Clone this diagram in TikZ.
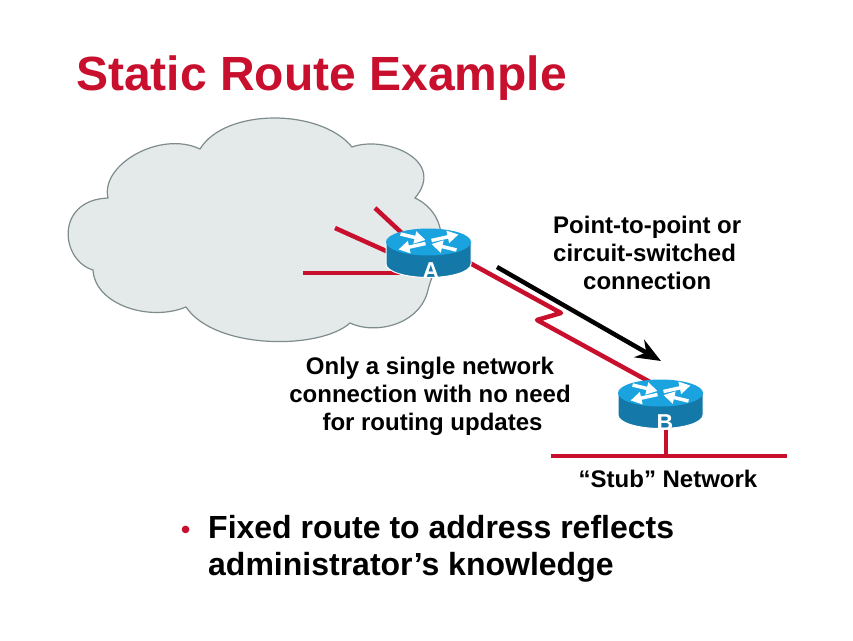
\documentclass[tikz,border=0pt]{standalone}
\usepackage{fontspec}
\setmainfont{Liberation Sans}
\usetikzlibrary{arrows.meta}
\definecolor{ciscored}{HTML}{C8102E}
\definecolor{cloudfill}{HTML}{E4E9EA}
\definecolor{cloudline}{HTML}{7F8C8C}
\definecolor{rtop}{HTML}{1BA3E0}
\definecolor{rside}{HTML}{1478A8}
\tikzset{
  x=1pt,y=-1pt,
  redline/.style={draw=ciscored,line width=4.5pt},
  lbl/.style={font=\bfseries\fontsize{24}{28}\selectfont,inner sep=0pt,text=black},
  rlabel/.style={font=\bfseries\fontsize{23}{23}\selectfont,text=white,inner sep=0pt},
  rarrow/.style={draw=white,line width=3.5pt,-{Triangle[length=11pt,width=12pt]}},
  pics/router/.style={code={
    \path[fill=rside,draw=white,line width=1pt] (-42.5,0) -- (-42.5,22) arc[start angle=180,end angle=360,x radius=42.5,y radius=-13.5] -- (42.5,0) -- cycle;
    \fill[rtop] (0,0) ellipse[x radius=42.5,y radius=13.5];
    \draw[rarrow] (3,-1.5) -- (30,-7.5);
    \draw[rarrow] (-3,1.5) -- (-30,7.5);
    \draw[rarrow] (-28,-8) -- (-3,-2);
    \draw[rarrow] (28,8) -- (3,2);
  }}
}
\begin{document}
\begin{tikzpicture}
\useasboundingbox (0,0) rectangle (853,640);
\fill[white] (0,0) rectangle (853,640);
\node[anchor=west,inner sep=0pt,text=ciscored,font=\bfseries\fontsize{48}{48}\selectfont] (title) at (76,78) {Static Route Example};
% cloud
\draw[fill=cloudfill,draw=cloudline,line width=1.2pt]
 (108,198) .. controls (100,165) and (160,130) .. (200,149)
 .. controls (225,108) and (320,108) .. (352,147)
 .. controls (385,135) and (447,160) .. (415,198)
 .. controls (430,205) and (442,220) .. (441,240)
 .. controls (442,260) and (433,270) .. (428,290)
 .. controls (420,325) and (375,335) .. (350,323)
 .. controls (320,350) and (215,350) .. (186,307)
 .. controls (150,322) and (95,305) .. (93,270)
 .. controls (60,260) and (55,200) .. (108,198) -- cycle;
% coordinates
\coordinate (ra) at (428.5,242);
\coordinate (rb) at (660.5,393);
\coordinate (a1) at (303,273);
\coordinate (a1e) at (400,273);
\coordinate (a2) at (335,228);
\coordinate (a2e) at (395,255);
\coordinate (a3) at (375,208);
\coordinate (a3e) at (405,236);
\coordinate (ae) at (468,262);
\coordinate (z1) at (561,313);
\coordinate (z2) at (537,320);
\coordinate (be) at (650,382);
\coordinate (s1) at (551,456);
\coordinate (s2) at (787,456);
\coordinate (st) at (666,456);
\coordinate (sb) at (666,428);
\coordinate (k1) at (497,267);
\coordinate (k2) at (661,361);
\draw[redline] (a1) -- (a1e);
\draw[redline] (a2) -- (a2e);
\draw[redline] (a3) -- (a3e);
\draw[redline,line join=round] (ae) -- (z1) -- (z2) -- (be);
\draw[redline] (s1) -- (s2);
\draw[redline] (sb) -- (st);
\draw[line width=4.5pt,-{Stealth[length=25pt,width=20pt,inset=8pt]}] (k1) -- (k2);
\pic at (ra) {router};
\pic at (rb) {router};
\node[rlabel] (la) at (431,271) {A};
\node[rlabel] (lb) at (665,423) {B};
\node[lbl,align=left,anchor=north west] (t1) at (553,216) {Point-to-point or\\circuit-switched\\\hspace*{30pt}connection};
\node[lbl,align=center,anchor=north] (t2) at (430,357) {Only a single network\\connection with no need\\\hspace*{5pt}for routing updates};
\node[lbl] (t3) at (668,479) {“Stub” Network};
\node[anchor=west,inner sep=0pt,text=ciscored,font=\bfseries\fontsize{26}{26}\selectfont] (bul) at (181,532) {•};
\node[anchor=north west,inner sep=0pt,align=left,font=\bfseries\fontsize{32}{37}\selectfont] (t4) at (208,515) {Fixed route to address reflects\\administrator’s knowledge};
\end{tikzpicture}
\end{document}
